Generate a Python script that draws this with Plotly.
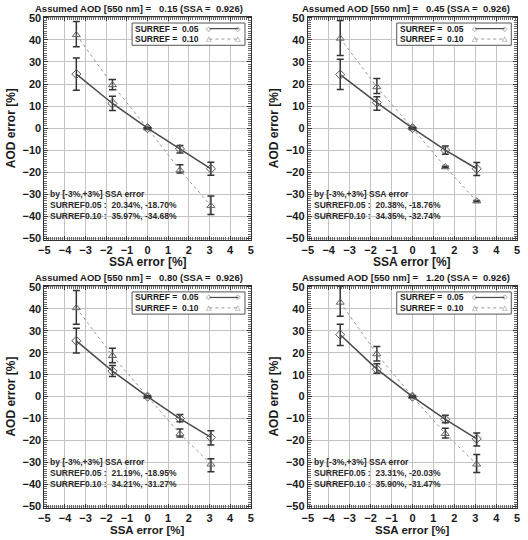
import plotly.graph_objects as go
from plotly.subplots import make_subplots

NB = "\u00a0"

ssa_err = [-3.45, -1.7, 0.0, 1.57, 3.07]
aod_labels = ["0.15", "0.45", "0.80", "1.20"]
ssa_value = "0.926"

# SURREF = 0.05
s05_y = [[24.5, 11.2, 0.0, -9.4, -18.4],
         [24.3, 11.6, 0.0, -10.0, -18.4],
         [25.4, 11.6, 0.0, -10.0, -18.6],
         [28.2, 12.5, 0.0, -10.4, -19.2]]
s05_ep = [[7.3, 3.3, 0.3, 1.6, 3.0],
          [6.9, 2.7, 0.3, 1.9, 2.8],
          [5.7, 2.6, 0.3, 1.9, 3.0],
          [4.8, 2.5, 0.3, 1.9, 2.6]]
s05_em = [[7.3, 3.2, 0.3, 1.8, 2.9],
          [6.8, 3.5, 0.3, 1.8, 3.1],
          [5.6, 2.5, 0.3, 1.5, 3.4],
          [4.9, 1.9, 0.3, 1.5, 3.3]]
# SURREF = 0.10
s10_y = [[42.3, 19.6, 0.0, -19.0, -35.2],
         [40.7, 18.7, 0.0, -17.6, -33.1],
         [40.4, 18.6, 0.0, -16.9, -30.8],
         [42.9, 19.4, 0.0, -16.9, -30.8]]
s10_ep = [[6.1, 2.5, 0.3, 2.4, 4.4],
          [8.1, 3.8, 0.3, 0.3, 0.3],
          [7.9, 3.4, 0.3, 2.2, 2.5],
          [7.3, 3.4, 0.3, 2.5, 4.4]]
s10_em = [[5.4, 2.2, 0.3, 1.3, 3.9],
          [7.7, 3.0, 0.3, 0.3, 0.3],
          [7.4, 3.2, 0.3, 1.5, 3.4],
          [6.3, 3.2, 0.3, 1.9, 3.7]]

stat05 = [("20.34%", "-18.70%"), ("20.38%", "-18.76%"), ("21.19%", "-18.95%"), ("23.31%", "-20.03%")]
stat10 = [("35.97%", "-34.68%"), ("34.35%", "-32.74%"), ("34.21%", "-31.27%"), ("35.90%", "-31.47%")]

x_ticks = [-5, -4, -3, -2, -1, 0, 1, 2, 3, 4, 5]
y_ticks = [-50, -40, -30, -20, -10, 0, 10, 20, 30, 40, 50]

W, H = 528, 540
# plot areas in pixels: (left, right, top, bottom)
areas = [(39, 249, 12, 239), (307, 520, 12, 239), (39, 249, 286, 512), (307, 520, 286, 512)]
title_left = [27, 299, 27, 299]
xtitle_y = [262, 262, 535, 535]

fig = make_subplots(rows=2, cols=2)
FONT = "Liberation Sans"
DARK = "#1a1a1a"
C05 = "#4a4a4a"
C10 = "#9a9a9a"

annotations = []
shapes = []
for i in range(4):
    r, c = i // 2 + 1, i % 2 + 1
    fig.add_trace(go.Scatter(x=ssa_err, y=s10_y[i], mode="lines+markers",
                             line=dict(color=C10, width=1, dash="dot"),
                             marker=dict(symbol="triangle-up-open", size=7, color="#666", line=dict(width=1)),
                             error_y=dict(type="data", array=s10_ep[i], arrayminus=s10_em[i], color="#333",
                                          thickness=1.5, width=3.5),
                             showlegend=False), row=r, col=c)
    fig.add_trace(go.Scatter(x=ssa_err, y=s05_y[i], mode="lines+markers",
                             line=dict(color=C05, width=1.5),
                             marker=dict(symbol="diamond-open", size=7, color="#555", line=dict(width=1)),
                             error_y=dict(type="data", array=s05_ep[i], arrayminus=s05_em[i], color="#333",
                                          thickness=1.5, width=3.5),
                             showlegend=False), row=r, col=c)
    L, R, T, B = areas[i]
    xd = [L / W, R / W]
    yd = [1 - B / H, 1 - T / H]
    sfx = "" if i == 0 else str(i + 1)
    common = dict(showline=True, linecolor="#333", linewidth=1, mirror="allticks",
                  ticks="inside", ticklen=4, tickcolor="#333",
                  showgrid=True, gridcolor="#c4c4c4", gridwidth=1, zeroline=False,
                  tickfont=dict(family=FONT, size=11, color=DARK, weight="bold"))
    fig.layout["xaxis" + sfx].update(domain=xd, range=[-5, 5], tickvals=x_ticks,
                                      minor=dict(dtick=0.1, ticks="inside", ticklen=3, tickcolor="#666", showgrid=False),
                                      **common)
    fig.layout["yaxis" + sfx].update(domain=yd, range=[-50.5, 50.5], tickvals=y_ticks,
                                      minor=dict(dtick=1, ticks="inside", ticklen=3, tickcolor="#666", showgrid=False),
                                      title=dict(text="AOD error [%]", standoff=4,
                                                 font=dict(family=FONT, size=12, color=DARK, weight="bold")),
                                      **common)
    xdom = "x" + sfx + " domain"
    ydom = "y" + sfx + " domain"
    # x axis title
    annotations.append(dict(xref=xdom, yref="paper", x=0.5, y=1 - xtitle_y[i] / H,
                            xanchor="center", yanchor="middle", showarrow=False,
                            text="SSA error [%]", borderpad=0,
                            font=dict(family=FONT, size=12 if r == 1 else 11.5, color=DARK, weight="bold")))
    # title
    annotations.append(dict(xref="paper", yref="paper", x=title_left[i] / W, y=1 - (T - 8) / H,
                            xanchor="left", yanchor="middle", showarrow=False,
                            text=f"Assumed AOD [550 nm] ={NB*3}{aod_labels[i]} (SSA ={NB*2}{ssa_value})",
                            font=dict(family=FONT, size=9.5, color=DARK, weight="bold")))
    # legend box
    shapes.append(dict(type="rect", xref=xdom, yref=ydom, x0=0.425, x1=0.972, y0=0.872, y1=0.972,
                       line=dict(color="#555", width=1), fillcolor="white", layer="above"))
    for k, (lbl, col, dash, glyph, yy) in enumerate([
            ("0.05", C05, "solid", "\u25c7", 0.947), ("0.10", C10, "dot", "\u25b3", 0.900)]):
        annotations.append(dict(xref=xdom, yref=ydom, x=0.43, y=yy, xanchor="left", yanchor="middle",
                                showarrow=False, text=f"SURREF ={NB*2}{lbl}",
                                font=dict(family=FONT, size=8.5, color=DARK, weight="bold")))
        shapes.append(dict(type="line", xref=xdom, yref=ydom, x0=0.80, x1=0.94, y0=yy, y1=yy,
                           line=dict(color=col, width=1 if dash == "dot" else 1.2, dash=dash), layer="above"))
        for gx in (0.80, 0.94):
            annotations.append(dict(xref=xdom, yref=ydom, x=gx, y=yy, xanchor="center", yanchor="middle",
                                    showarrow=False, text=glyph,
                                    font=dict(family="DejaVu Sans", size=7, color="#666")))
    # stats text
    lines = ["by [-3%,+3%] SSA error",
             f"SURREF0.05 :{NB*2}{stat05[i][0]}, {stat05[i][1]}",
             f"SURREF0.10 :{NB*2}{stat10[i][0]}, {stat10[i][1]}"]
    for k, (txt, yy) in enumerate(zip(lines, [0.203, 0.154, 0.106])):
        annotations.append(dict(xref=xdom, yref=ydom, x=0.02, y=yy, xanchor="left", yanchor="middle",
                                showarrow=False, text=txt,
                                font=dict(family=FONT, size=8.5, color="#2a2a2a", weight="bold")))

fig.update_layout(width=W, height=H, margin=dict(l=0, r=0, t=0, b=0),
                  paper_bgcolor="white", plot_bgcolor="white",
                  annotations=annotations, shapes=shapes, showlegend=False)
fig.write_html("out.html")
